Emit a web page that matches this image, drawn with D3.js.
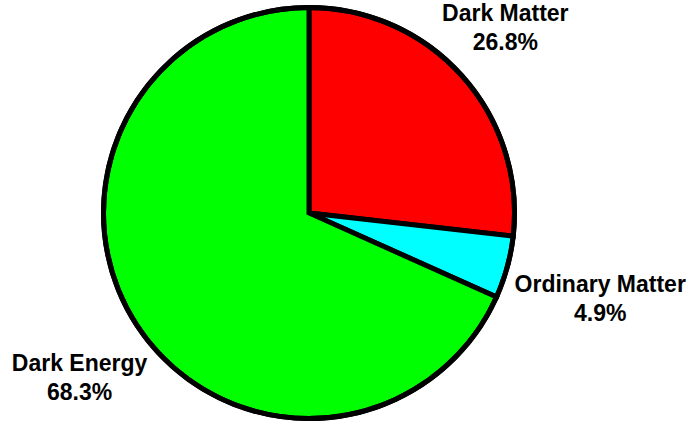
<!DOCTYPE html>
<html>
<head>
<meta charset="utf-8">
<script src="https://cdn.jsdelivr.net/npm/d3@7"></script>
<style>
  html, body { margin: 0; padding: 0; background: #fff; }
  svg { display: block; }
  text { font-family: "Liberation Sans", Arial, sans-serif; font-weight: bold; fill: #000; }
</style>
</head>
<body>
<svg id="chart" width="689" height="423"></svg>
<script>
// Composition of the universe
const categories = ["Dark Matter", "Ordinary Matter", "Dark Energy"];
const percentages = [26.8, 4.9, 68.3];
const sliceColors = ["#ff0000", "#00ffff", "#00ff00"];

const W = 689, H = 423;
const cx = 309, cy = 213, R = 205.5;

// label placement relative to each slice's outer arc midpoint
const labelOffset = {
  "Dark Matter": [43, -55],
  "Ordinary Matter": [93, 25],
  "Dark Energy": [-57, 46]
};
const lineGap = 29;

const svg = d3.select("#chart");
const g = svg.append("g").attr("transform", `translate(${cx},${cy})`);

const data = categories.map((c, i) => ({ name: c, value: percentages[i], color: sliceColors[i] }));

const pie = d3.pie().sort(null).value(d => d.value);
const arc = d3.arc().innerRadius(0).outerRadius(R);
const arcs = pie(data);

g.selectAll("path.slice")
  .data(arcs)
  .join("path")
  .attr("class", "slice")
  .attr("d", arc)
  .attr("fill", d => d.data.color)
  .attr("stroke", "#000")
  .attr("stroke-width", 5)
  .attr("stroke-linejoin", "miter");

// outer rim
g.append("circle").attr("r", R).attr("fill", "none").attr("stroke", "#000").attr("stroke-width", 5);

const labels = g.selectAll("text.label")
  .data(arcs)
  .join("text")
  .attr("class", "label")
  .attr("text-anchor", "middle")
  .style("font-size", "23px")
  .attr("transform", d => {
    const mid = (d.startAngle + d.endAngle) / 2;
    const [ox, oy] = labelOffset[d.data.name];
    const x = R * Math.sin(mid) + ox;
    const y = -R * Math.cos(mid) + oy;
    return `translate(${x},${y})`;
  });

labels.append("tspan").attr("x", 0).attr("y", 0).text(d => d.data.name);
labels.append("tspan").attr("x", 0).attr("y", lineGap).text(d => d.data.value.toFixed(1) + "%");
</script>
</body>
</html>
